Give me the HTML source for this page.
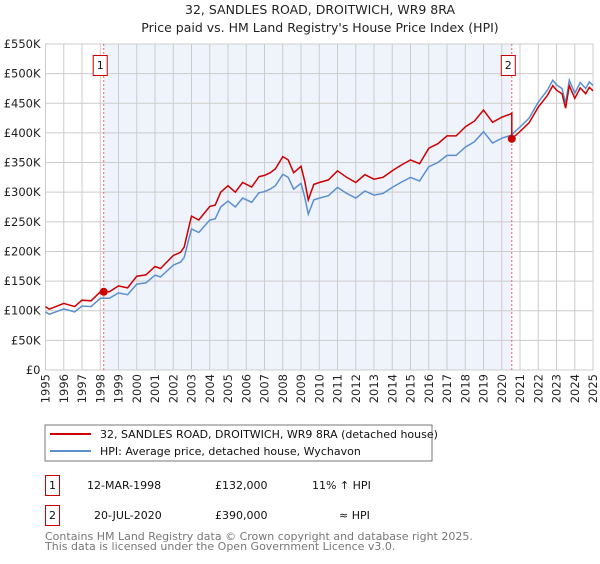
<!DOCTYPE html>
<html><head><meta charset="utf-8"><style>
body{margin:0;background:#fff;font-family:"DejaVu Sans","Liberation Sans",sans-serif;}
svg text{font-family:"DejaVu Sans","Liberation Sans",sans-serif;}
</style></head><body>
<svg id="c" width="600" height="560" xmlns="http://www.w3.org/2000/svg">
<text x="320" y="14" text-anchor="middle" font-size="12.5" fill="#222">32, SANDLES ROAD, DROITWICH, WR9 8RA</text>
<text x="320" y="32" text-anchor="middle" font-size="12.5" fill="#222">Price paid vs. HM Land Registry's House Price Index (HPI)</text>
<g id="plot"></g>
<rect x="45" y="425" width="387" height="36" fill="#fff" stroke="#777"/>
<line x1="50" y1="434" x2="91" y2="434" stroke="#cc0000" stroke-width="2"/>
<text x="100" y="438" font-size="11" fill="#111">32, SANDLES ROAD, DROITWICH, WR9 8RA (detached house)</text>
<line x1="50" y1="451" x2="91" y2="451" stroke="#5b8fd0" stroke-width="2"/>
<text x="100" y="455" font-size="11" fill="#111">HPI: Average price, detached house, Wychavon</text>
<g>
<rect x="45.5" y="475.5" width="14" height="20" fill="#fff" stroke="#cc0000"/>
<text x="52.5" y="489" text-anchor="middle" font-size="11" fill="#111">1</text>
<text x="87" y="489" font-size="11" fill="#111">12-MAR-1998</text>
<text x="215" y="489" font-size="11" fill="#111">£132,000</text>
<text x="312" y="489" font-size="11" fill="#111">11% ↑ HPI</text>
</g>
<g>
<rect x="45.5" y="505.5" width="14" height="20" fill="#fff" stroke="#cc0000"/>
<text x="52.5" y="519" text-anchor="middle" font-size="11" fill="#111">2</text>
<text x="94" y="519" font-size="11" fill="#111">20-JUL-2020</text>
<text x="215" y="519" font-size="11" fill="#111">£390,000</text>
<text x="339" y="519" font-size="11" fill="#111">≈ HPI</text>
</g>
<text x="45" y="540" font-size="11" fill="#777">Contains HM Land Registry data © Crown copyright and database right 2025.</text>
<text x="45" y="550" font-size="11" fill="#777">This data is licensed under the Open Government Licence v3.0.</text>
</svg>
<script>
const years=[1995,1995.2,1996,1996.6,1997,1997.5,1998,1998.5,1999,1999.5,2000,2000.5,2001,2001.3,2002,2002.4,2002.6,2002.8,2003,2003.4,2004,2004.3,2004.6,2005,2005.4,2005.8,2006.3,2006.7,2007,2007.3,2007.6,2008,2008.3,2008.6,2009,2009.2,2009.4,2009.7,2010,2010.5,2011,2011.5,2012,2012.5,2013,2013.5,2014,2014.5,2015,2015.5,2016,2016.5,2017,2017.5,2018,2018.5,2019,2019.5,2020,2020.5,2021,2021.5,2022,2022.5,2022.8,2023,2023.3,2023.5,2023.7,2024,2024.3,2024.6,2024.8,2025];
const hpi=[98,94,103,98,108,107,121,121,130,127,145,147,160,157,177,182,190,214,238,232,253,255,275,285,275,290,283,299,301,305,311,330,325,305,315,292,263,287,290,294,308,298,290,302,295,298,308,317,325,319,343,350,362,362,376,385,402,383,391,396,410,425,452,472,489,481,475,450,489,467,485,475,486,480];
const saleYears=[1998.19,2020.55];
const salePrices=[132,390];
const yTicks=[0,50,100,150,200,250,300,350,400,450,500,550];
const yLabels=["£0","£50K","£100K","£150K","£200K","£250K","£300K","£350K","£400K","£450K","£500K","£550K"];
const xTicks=[1995,1996,1997,1998,1999,2000,2001,2002,2003,2004,2005,2006,2007,2008,2009,2010,2011,2012,2013,2014,2015,2016,2017,2018,2019,2020,2021,2022,2023,2024,2025];
const X0=45.5,X1=593,Y0=370,Y1=44;
const xs=v=>X0+(v-1995)/30*(X1-X0);
const ys=v=>Y0-v/550*(Y0-Y1);
const NS="http://www.w3.org/2000/svg";
const g=document.getElementById('plot');
function mk(t,a){const e=document.createElementNS(NS,t);for(const k in a)e.setAttribute(k,a[k]);g.appendChild(e);return e;}
function hpiAt(y){for(let i=1;i<years.length;i++){if(years[i]>=y){const t=(y-years[i-1])/(years[i]-years[i-1]);return hpi[i-1]+t*(hpi[i]-hpi[i-1]);}}return hpi[hpi.length-1];}
let e=mk('rect',{x:xs(saleYears[0]),y:Y1,width:xs(saleYears[1])-xs(saleYears[0]),height:Y0-Y1,fill:'#eef3fc'});


yTicks.forEach((v,i)=>{
 let l=mk('line',{x1:X0,x2:X1,y1:ys(v),y2:ys(v),stroke:'#ccc','stroke-width':1});
 
 
 let t=mk('text',{x:X0-5,y:ys(v)+4,'text-anchor':'end','font-size':'11.5',fill:'#222'});
 t.textContent=yLabels[i];
 
 
});
xTicks.forEach(v=>{
 let l=mk('line',{x1:xs(v),x2:xs(v),y1:Y1,y2:Y0,stroke:'#ccc','stroke-width':1});
 
 
 let t=mk('text',{x:0,y:0,'text-anchor':'end','font-size':'11.5',fill:'#222',transform:`translate(${xs(v)+4},${Y0+4}) rotate(-90)`});
 t.textContent=v;
 
 
});
e=mk('rect',{x:X0,y:Y1,width:X1-X0,height:Y0-Y1,fill:'none',stroke:'#ccc'});


saleYears.forEach((s,i)=>{
 let l=mk('line',{x1:xs(s),x2:xs(s),y1:Y1,y2:Y0,stroke:'#e66','stroke-width':1,'stroke-dasharray':'2,2'});
 
 
 let r=mk('rect',{x:xs(s)-10.5,y:55.5,width:14,height:20,fill:'#fff',stroke:'#cc0000'});
 
 
 let t=mk('text',{x:xs(s)-3.5,y:69,'text-anchor':'middle','font-size':'11',fill:'#111'});
 t.textContent=String(i+1);
 
 
});
const r1=salePrices[0]/hpiAt(saleYears[0]), r2=salePrices[1]/hpiAt(saleYears[1]);
let bp='',rp='';
years.forEach((y,i)=>{
 bp+=(i?'L':'M')+xs(y).toFixed(1)+','+ys(hpi[i]).toFixed(1);
 const r=y<saleYears[1]?r1:r2;
 rp+=(i?'L':'M')+xs(y).toFixed(1)+','+ys(hpi[i]*r).toFixed(1);
 if(i<years.length-1&&y<saleYears[1]&&years[i+1]>saleYears[1]){
  rp+='L'+xs(saleYears[1]).toFixed(1)+','+ys(hpiAt(saleYears[1])*r1).toFixed(1)+'L'+xs(saleYears[1]).toFixed(1)+','+ys(salePrices[1]).toFixed(1);
 }
});
e=mk('path',{d:bp,fill:'none',stroke:'#5b8fd0','stroke-width':1.5});


e=mk('path',{d:rp,fill:'none',stroke:'#cc0000','stroke-width':1.5});


saleYears.forEach((s,i)=>{
 let c=mk('circle',{cx:xs(s),cy:ys(salePrices[i]),r:4,fill:'#cc0000'});
 
 
});
</script>
</body></html>
